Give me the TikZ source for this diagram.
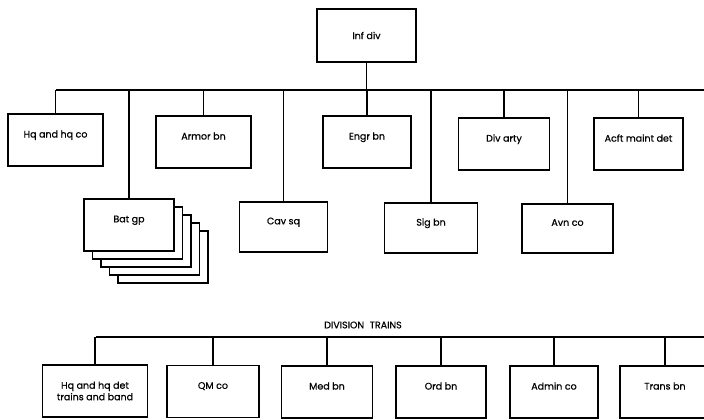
\documentclass[tikz,border=0pt]{standalone}
\usepackage{fontspec}
\setmainfont{Poppins}
\newfontfamily\orgfont[FakeBold=0.7]{Poppins}
\usetikzlibrary{positioning,calc}
\begin{document}
\begin{tikzpicture}[x=1pt,y=-1pt,line width=1.5pt,
  orgbox/.style={draw,fill=white,minimum width=92pt,minimum height=52pt,inner sep=2pt,
    font=\orgfont\fontsize{9.5}{11.5}\selectfont,align=center},
  toptext/.style={text depth=12pt},
  heading/.style={font=\orgfont\fontsize{9.5}{11}\selectfont}]
\useasboundingbox (0,0) rectangle (704,420);
% command and the upper bus
\node[orgbox,minimum width=99pt,minimum height=53pt] (infdiv) at (366.5,35.5) {Inf div};
\coordinate (busL) at (56,90);
\coordinate (busR) at (704,90);
\draw (busL) -- (busR);
\draw (infdiv.south) -- (infdiv.south |- busL);
% units, first row
\node[orgbox,toptext,minimum width=95pt] (hq) at (55.5,140) {Hq and hq co};
\node[orgbox,toptext,minimum width=95pt] (armor) at (203.5,142) {Armor bn};
\node[orgbox,toptext,minimum width=88pt] (engr) at (367,142) {Engr bn};
\node[orgbox,toptext,minimum width=91pt] (divarty) at (504,144) {Div arty};
\node[orgbox,toptext,minimum width=89pt,inner xsep=1pt] (acft) at (638.5,144) {Acft maint det};
% units, second row
\coordinate (batc) at (129,225);
\foreach \k in {4,3,2,1}
  \draw[fill=white] ($(batc)+(\k*8.5-45,\k*8-26)$) rectangle ++(90,52);
\node[orgbox,toptext,minimum width=90pt] (batgp) at (batc) {Bat gp};
\node[orgbox,toptext,minimum width=88pt,minimum height=50pt] (cav) at (283.5,227) {Cav sq};
\node[orgbox,toptext,minimum width=93pt,minimum height=50pt] (sig) at (431,228) {Sig bn};
\node[orgbox,toptext,minimum width=91pt,minimum height=49pt] (avn) at (567.5,228.5) {Avn co};
\foreach \n in {hq,armor,engr,divarty,acft,batgp,cav,sig,avn}
  \draw (\n.north) -- (\n.north |- busL);
% division trains
\node[heading] (trains) at (363,325) {DIVISION\hspace{0.6em}TRAINS};
\coordinate (trainsL) at (96,337);
\coordinate (trainsR) at (704,337);
\draw (trainsL) -- (trainsR);
\node[orgbox,minimum width=105pt] (hqdet) at (95,391) {Hq and hq det\\trains and band};
\node[orgbox,toptext] (qm) at (213,391.5) {QM co};
\node[orgbox,toptext,minimum width=91pt] (med) at (327,392) {Med bn};
\node[orgbox,toptext,minimum width=90pt] (ord) at (441,392) {Ord bn};
\node[orgbox,toptext,minimum width=88pt] (admin) at (554,392) {Admin co};
\node[orgbox,toptext,minimum width=90pt] (trans) at (665,392) {Trans bn};
\foreach \n in {hqdet,qm,med,ord,admin,trans}
  \draw (\n.north) -- (\n.north |- trainsL);
\end{tikzpicture}
\end{document}
